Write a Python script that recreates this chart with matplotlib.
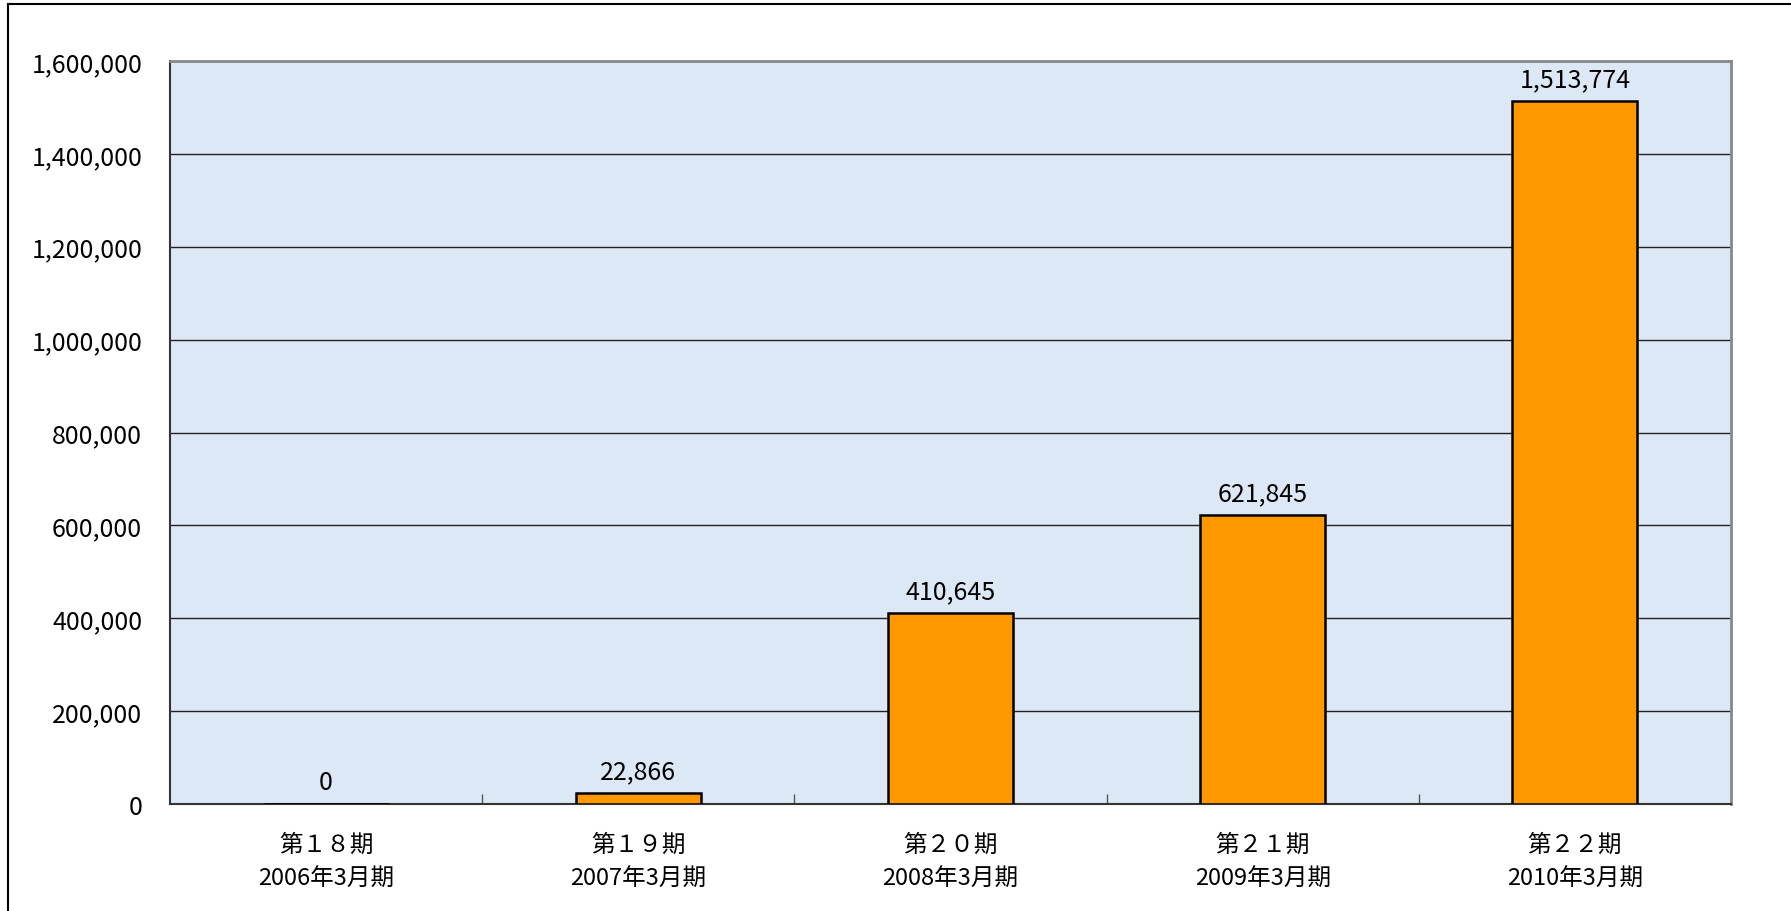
import matplotlib
matplotlib.use("Agg")
import matplotlib.pyplot as plt
from matplotlib.lines import Line2D
from matplotlib.ticker import FuncFormatter, MultipleLocator

plt.rcParams['font.family'] = ['Noto Sans CJK JP', 'DejaVu Sans']

periods = ["第１８期", "第１９期", "第２０期", "第２１期", "第２２期"]
fiscal_years = ["2006年3月期", "2007年3月期", "2008年3月期", "2009年3月期", "2010年3月期"]
values = [0, 22866, 410645, 621845, 1513774]

W, H = 1791, 912
fig = plt.figure(figsize=(W / 100, H / 100), dpi=100)
ax = fig.add_axes([170 / W, (H - 805) / H, (1731 - 170) / W, (805 - 62) / H])
ax.set_facecolor("#dce8f6")

x = list(range(len(values)))
bars = ax.bar(x, values, width=0.4, color="#ff9900", edgecolor="black",
              linewidth=1.8, zorder=3)

for xi, v in zip(x, values):
    ax.annotate(f"{v:,}", (xi, v), xytext=(0, 16), textcoords="offset points",
                ha="center", va="center", fontsize=18)

ax.set_xlim(-0.5, len(values) - 0.5)
ax.set_ylim(0, 1600000)
ax.yaxis.set_major_locator(MultipleLocator(200000))
ax.yaxis.set_major_formatter(FuncFormatter(lambda v, p: f"{int(v):,}"))
ax.grid(axis="y", color="#222222", linewidth=1.0, zorder=1)

# category labels centred on bars, separators between slots
ax.set_xticks(x)
ax.set_xticklabels([f"{p}\n{fy}" for p, fy in zip(periods, fiscal_years)],
                   fontsize=17, linespacing=1.6)
ax.tick_params(axis="x", which="major", length=0, pad=21)
ax.set_xticks([i + 0.5 for i in x[:-1]], minor=True)
ax.tick_params(axis="x", which="minor", direction="in", length=7,
               color="#555555", width=1)
ax.tick_params(axis="y", length=0, pad=20, labelsize=18)

for side in ("left", "bottom"):
    ax.spines[side].set_color("#333333")
    ax.spines[side].set_linewidth(1.5)
for side in ("top", "right"):
    ax.spines[side].set_color("#888888")
    ax.spines[side].set_linewidth(2)

# frame around the chart (left and top edges)
fig.add_artist(Line2D([8 / W, 8 / W], [0, 1 - 5 / H], color="black", linewidth=1.5))
fig.add_artist(Line2D([8 / W, 1], [1 - 5 / H, 1 - 5 / H], color="black", linewidth=1.5))

fig.savefig("out.png", dpi=100, facecolor="white")
